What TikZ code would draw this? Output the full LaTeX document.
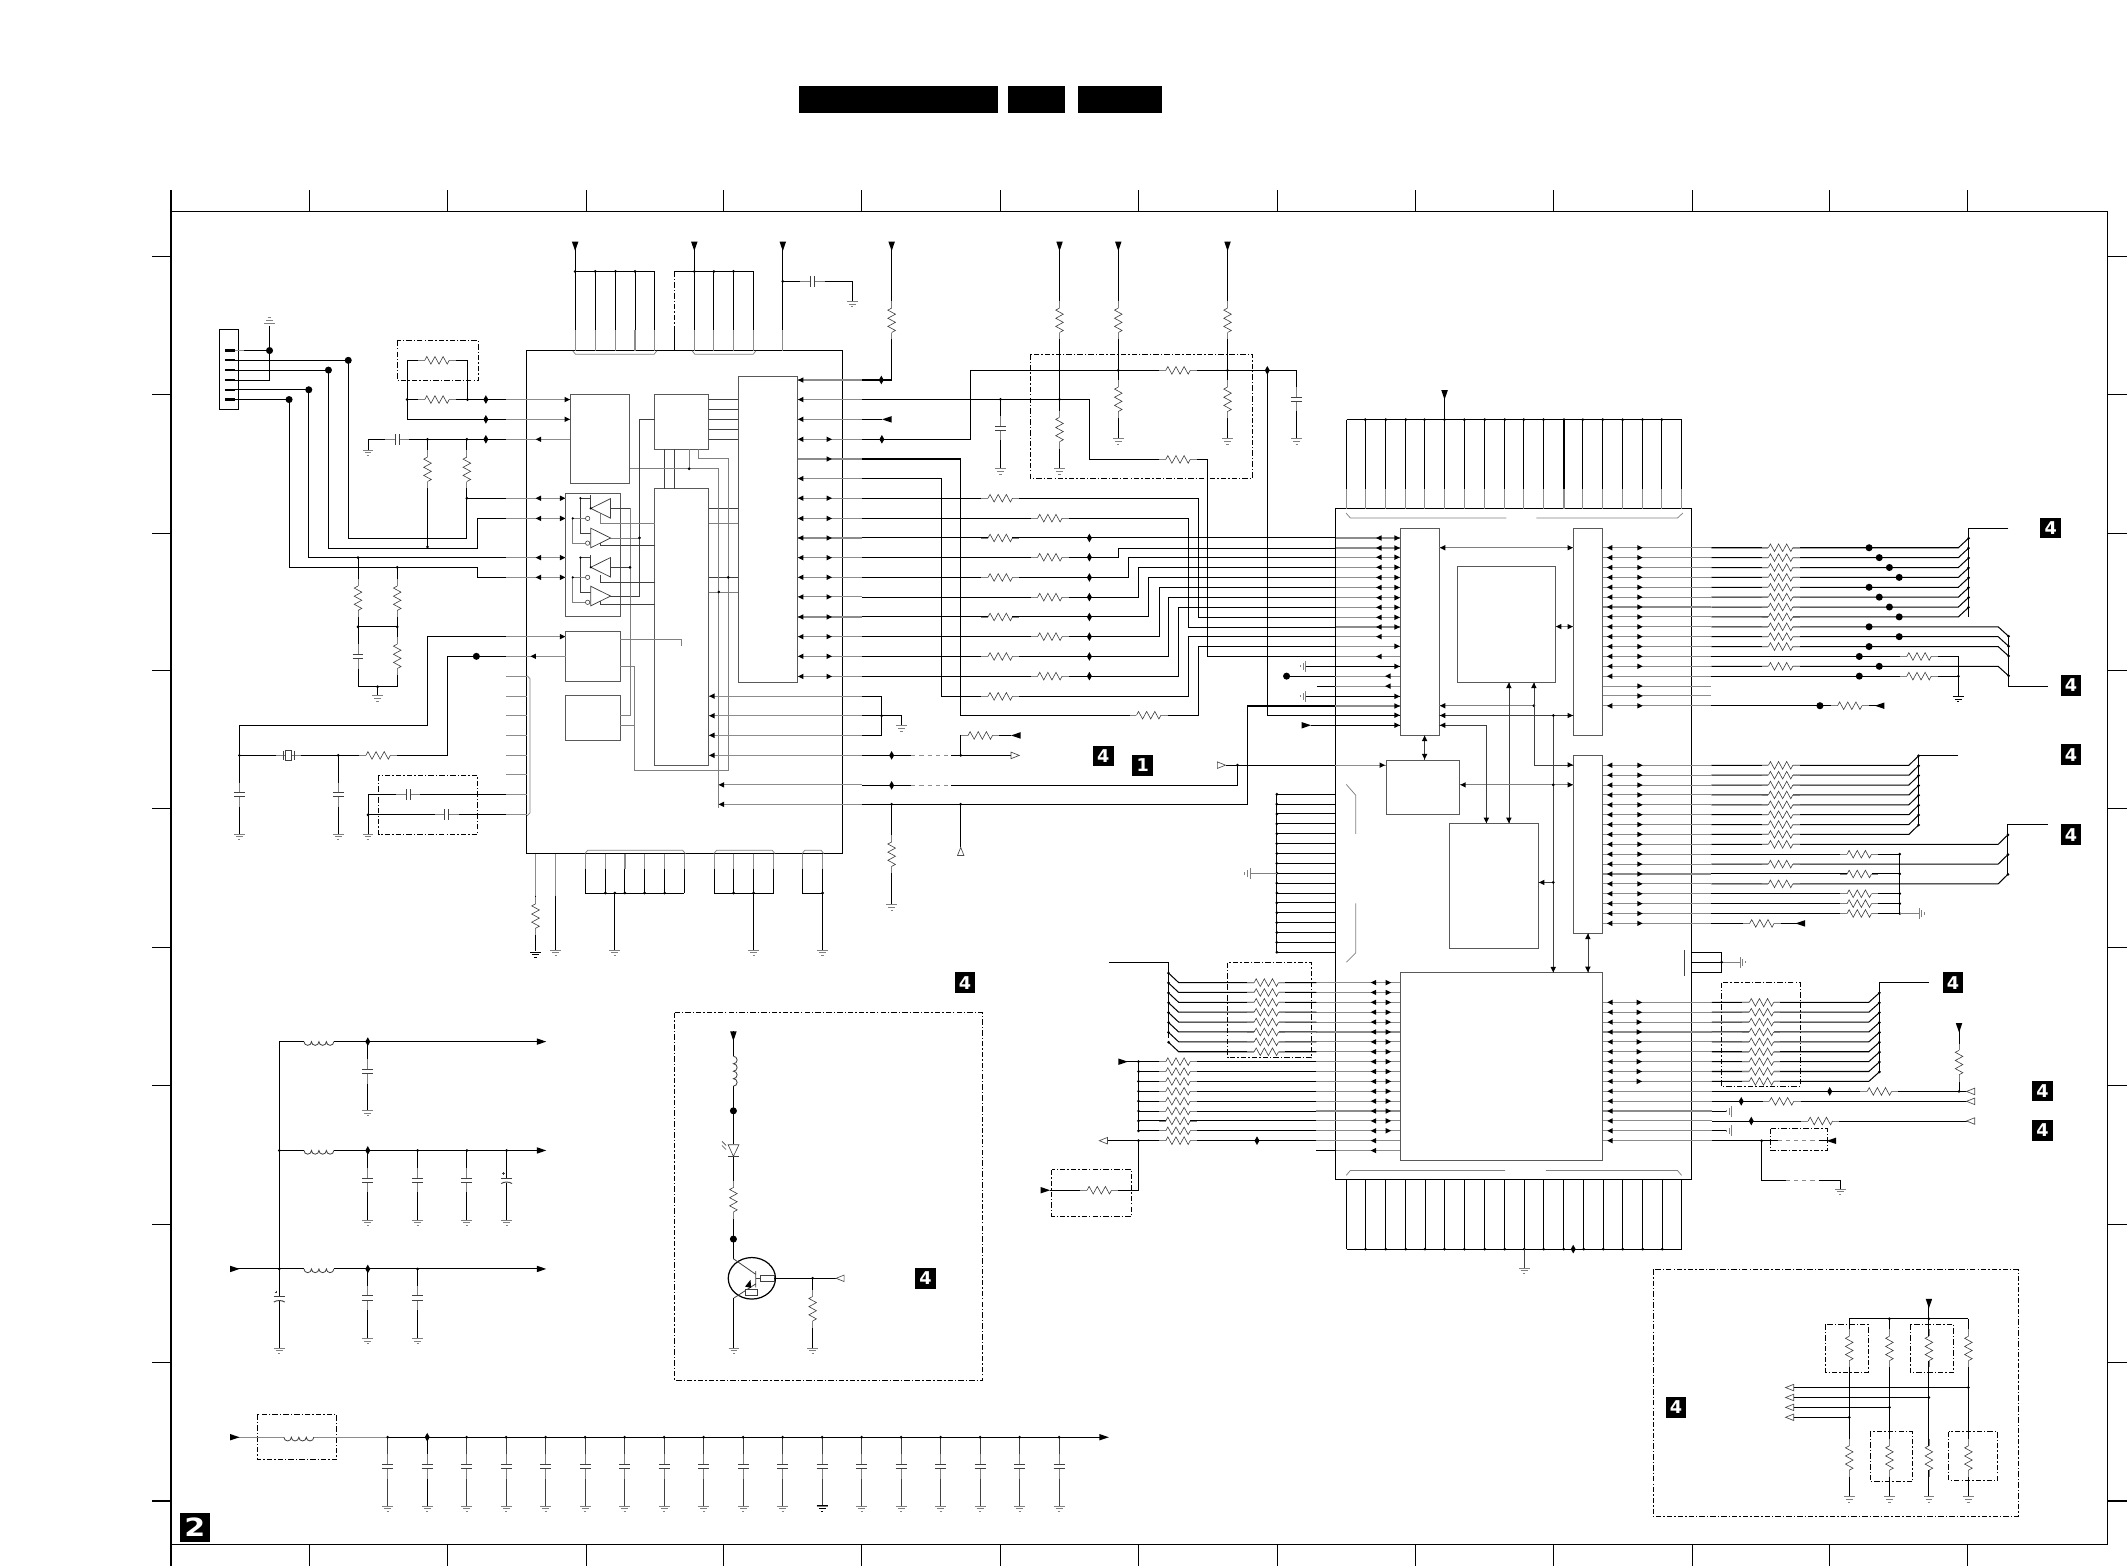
\documentclass[tikz,border=0pt]{standalone}
\usepackage{fontspec}
\setmainfont{Liberation Sans}
\newfontfamily\badgefont{DejaVu Sans}
\tikzset{
 wire/.style={black,line width=0.75pt},
 gw/.style={black!45,line width=0.8pt},
 part/.style={black!75,line width=0.45pt},
 gpart/.style={black!50,line width=0.55pt},
 ic/.style={black,line width=0.8pt},
 blk/.style={black!65,line width=0.6pt},
 dbox/.style={black,line width=0.6pt,dash pattern=on 4pt off 1.5pt on 1pt off 1.5pt},
 badge/.style={fill=black,text=white,font=\badgefont\bfseries\fontsize{13}{13}\selectfont,inner sep=0pt,minimum width=15.2pt,minimum height=15.2pt},
}
\newcommand\xRH[2]{\begin{scope}[shift={(#1,#2)}]\fill[white](-9,-1)rectangle(9,1);\draw[gpart](-14,0)--(-9,0)(9,0)--(14,0);\draw[part](-9,0)--(-7.5,-2.8)--(-4.5,2.8)--(-1.5,-2.8)--(1.5,2.8)--(4.5,-2.8)--(7.5,2.8)--(9,0);\end{scope}}
\newcommand\xRV[2]{\begin{scope}[shift={(#1,#2)}]\fill[white](-1,-9)rectangle(1,9);\draw[gpart](0,-14)--(0,-9)(0,9)--(0,14);\draw[part](0,-9)--(-2.8,-7.5)--(2.8,-4.5)--(-2.8,-1.5)--(2.8,1.5)--(-2.8,4.5)--(2.8,7.5)--(0,9);\end{scope}}
\newcommand\xCV[2]{\begin{scope}[shift={(#1,#2)}]\fill[white](-1,-1.5)rectangle(1,1.5);\draw[gpart](0,-9)--(0,-1.5)(0,1.5)--(0,9);\draw[part,line width=0.7pt](-4,-1.5)--(4,-1.5)(-4,1.5)--(4,1.5);\end{scope}}
\newcommand\xCH[2]{\begin{scope}[shift={(#1,#2)}]\fill[white](-1.5,-1)rectangle(1.5,1);\draw[gpart](-9,0)--(-1.5,0)(1.5,0)--(9,0);\draw[part,line width=0.7pt](-1.5,-4)--(-1.5,4)(1.5,-4)--(1.5,4);\end{scope}}
\newcommand\xCE[2]{\begin{scope}[shift={(#1,#2)}]\fill[white](-1,-1.5)rectangle(1,2);\draw[part,line width=0.7pt](-4,-1.5)--(4,-1.5);\draw[part,line width=0.7pt](-4,2.5)..controls(-2,1)and(2,1)..(4,2.5);\draw[part](-3.5,-5)--(-1.5,-5)(-2.5,-6)--(-2.5,-4);\end{scope}}
\newcommand\xLH[2]{\begin{scope}[shift={(#1,#2)}]\fill[white](-11,-1)rectangle(11,1);\draw[part,line width=0.6pt](-11,0)arc(180:0:2.75)arc(180:0:2.75)arc(180:0:2.75)arc(180:0:2.75);\end{scope}}
\newcommand\xLV[2]{\begin{scope}[shift={(#1,#2)}]\fill[white](-1,-11)rectangle(1,11);\draw[part,line width=0.6pt](0,-11)arc(-90:90:2.75)arc(-90:90:2.75)arc(-90:90:2.75)arc(-90:90:2.75);\end{scope}}
\newcommand\xGD[2]{\begin{scope}[shift={(#1,#2)}]\draw[gpart](-4,0)--(4,0)(-2.5,2)--(2.5,2)(-0.8,4)--(0.8,4);\end{scope}}
\newcommand\xGU[2]{\begin{scope}[shift={(#1,#2)}]\draw[gpart](-4,0)--(4,0)(-2.5,-2)--(2.5,-2)(-0.8,-4)--(0.8,-4);\end{scope}}
\newcommand\xGR[2]{\begin{scope}[shift={(#1,#2)}]\draw[gpart](0,-4)--(0,4)(2,-2.5)--(2,2.5)(4,-0.8)--(4,0.8);\end{scope}}
\newcommand\xGL[2]{\begin{scope}[shift={(#1,#2)}]\draw[gpart](0,-4)--(0,4)(-2,-2.5)--(-2,2.5)(-4,-0.8)--(-4,0.8);\end{scope}}
\newcommand\xD[2]{\fill(#1,#2)circle(1.1);}
\newcommand\xB[2]{\fill(#1,#2)circle(2.6);}
\newcommand\xM[2]{\begin{scope}[shift={(#1,#2)}]\fill(-1.8,0)--(0,-3.2)--(1.8,0)--(0,3.2)--cycle;\end{scope}}
\newcommand\xAL[2]{\begin{scope}[shift={(#1,#2)}]\fill(-2,0)--(2,-2)--(2,2)--cycle;\end{scope}}
\newcommand\xAR[2]{\begin{scope}[shift={(#1,#2)}]\fill(2,0)--(-2,-2)--(-2,2)--cycle;\end{scope}}
\newcommand\xAU[2]{\begin{scope}[shift={(#1,#2)}]\fill(0,-2)--(-2,2)--(2,2)--cycle;\end{scope}}
\newcommand\xAD[2]{\begin{scope}[shift={(#1,#2)}]\fill(0,2)--(-2,-2)--(2,-2)--cycle;\end{scope}}
\newcommand\xSD[2]{\begin{scope}[shift={(#1,#2)}]\fill(-2.4,0)--(2.4,0)--(0,7)--cycle;\end{scope}}
\newcommand\xSL[2]{\begin{scope}[shift={(#1,#2)}]\fill(0,0)--(7,-2.4)--(7,2.4)--cycle;\end{scope}}
\newcommand\xSR[2]{\begin{scope}[shift={(#1,#2)}]\fill(0,0)--(-7,-2.4)--(-7,2.4)--cycle;\end{scope}}
\newcommand\xOL[2]{\begin{scope}[shift={(#1,#2)}]\filldraw[fill=white,draw=black!70,line width=0.5pt](0,0)--(6,-2.4)--(6,2.4)--cycle;\end{scope}}
\newcommand\xOR[2]{\begin{scope}[shift={(#1,#2)}]\filldraw[fill=white,draw=black!70,line width=0.5pt](0,0)--(-6,-2.4)--(-6,2.4)--cycle;\end{scope}}
\newcommand\xOU[2]{\begin{scope}[shift={(#1,#2)}]\filldraw[fill=white,draw=black!70,line width=0.5pt](0,0)--(-2.4,6)--(2.4,6)--cycle;\end{scope}}
\newcommand\xTL[2]{\begin{scope}[shift={(#1,#2)}]\draw[part,line width=0.55pt,fill=white](0,0)--(14.6,-7.2)--(14.6,7.2)--cycle;\end{scope}}
\newcommand\xTR[2]{\begin{scope}[shift={(#1,#2)}]\draw[part,line width=0.55pt,fill=white](14.6,0)--(0,-7.2)--(0,7.2)--cycle;\end{scope}}
\newcommand\xO[2]{\draw[part,fill=white](#1,#2)circle(1.6);}
\begin{document}
\begin{tikzpicture}[x=1pt,y=-1pt]
\useasboundingbox (0,0) rectangle (1568,1153.9);
% header
\fill (589,63) rectangle (735,83);
\fill (743,63) rectangle (785,83);
\fill (794,63) rectangle (856,83);
% frame
\draw[ic] (126,156) rectangle (1553,1138);
\foreach \x in {126,228,330,432,533,635,737,839,941,1043,1145,1247,1348,1450}{\draw[ic](\x,140)--(\x,156)(\x,1138)--(\x,1154);}
\foreach \y in {189,291,393,494,596,698,800,902,1004,1106}{\draw[ic](112,\y)--(126,\y)(1553,\y)--(1567,\y);}
\node[badge,minimum width=22pt,minimum height=22pt] (b2) at (143.5,1125.5) {\fontsize{18.5}{18.5}\selectfont\scalebox{1.2}[1]{2}};
% ---------- connector
\draw[ic,line width=0.7pt] (162,243) rectangle (176,302);
\foreach \y in {258.3,265.5,272.7,280.3,287.2,294.4}{\draw[black,line width=1.6pt](165.8,\y)--(173,\y);}
\draw[gw](173,258.3)--(180,258.3);\draw[wire](180,258.3)--(198.6,258.3);
\draw[wire](198.6,240)--(198.6,280.3)--(173,280.3);
\xGU{198.6}{238}\xB{198.6}{258.3}
\draw[wire](173,265.5)--(256.6,265.5)--(256.6,396.7)--(344,396.7)--(344,360);\xB{256.6}{265.5}
\draw[wire](173,272.7)--(242,272.7)--(242,404.3)--(352,404.3)--(352,382)--(373,382);\xB{242}{272.7}
\draw[wire](173,287.2)--(227.5,287.2)--(227.5,410.9)--(373,410.9);\xB{227.5}{287.2}
\draw[wire](173,294.4)--(213,294.4)--(213,418)--(352,418)--(352,425.4)--(373,425.4);\xB{213}{294.4}
% top-left resistors
\draw[dbox](292.7,251) rectangle (352.7,280.3);
\draw[wire](311,265.5)--(300,265.5)--(300,309)--(373,309);
\draw[wire](333,265.5)--(344.5,265.5)--(344.5,294.4);
\draw[wire](300,294.4)--(373,294.4);
\xRH{322}{265.5}\xRH{322}{294.4}\xD{300}{294.4}\xD{344.5}{294.4}
\xM{358}{294.4}\xM{358}{309}
% cap + two resistors
\draw[wire](271.2,331.6)--(271.2,323.7)--(373,323.7);\xCH{292.7}{323.7}\xGD{271.2}{331.6}
\draw[wire](315,323.7)--(315,404.3);\draw[wire](344,323.7)--(344,367.1)--(373,367.1);
\xRV{315}{345.8}\xRV{344}{345.8}\xD{315}{323.7}\xD{344}{323.7}\xD{315}{403}\xD{344}{367.1}\xM{358}{323.7}
% lower network
\draw[wire](263.8,410.9)--(263.8,506)--(292.7,506)--(292.7,418);\draw[wire](263.8,461.9)--(292.7,461.9);
\xRV{263.8}{440.8}\xRV{292.7}{440.8}\xRV{292.7}{483.6}\xCV{263.8}{483.6}
\xD{263.8}{410.9}\xD{292.7}{418}\xD{263.8}{461.9}\xD{292.7}{461.9}\xD{278.2}{506}
\draw[wire](278.2,506)--(278.2,512.5);\xGD{278.2}{512.5}
% crystal
\draw[wire](373,469.1)--(314.9,469.1)--(314.9,534.6)--(176.4,534.6)--(176.4,614.5);
\draw[wire](373,483.6)--(329.7,483.6)--(329.7,556.6)--(176.4,556.6);
\xB{351}{483.6}\xRH{278.6}{556.6}\xD{176.4}{556.6}\xD{249.3}{556.6}
\xCH{212.7}{556.6}\fill[white](210,553)rectangle(215.5,560);\draw[part](210.5,553)rectangle(215,560);\draw[part](209,553)--(209,560)(216.5,553)--(216.5,560);
\draw[wire](249.3,556.6)--(249.3,614.5);\xCV{176.4}{585.6}\xCV{249.3}{585.6}
\xGD{176.4}{614.5}\xGD{249.3}{614.5}
\draw[dbox](278.9,571.4) rectangle (351.9,614.8);
\draw[wire](373,585.6)--(271.2,585.6)--(271.2,614.5);\draw[wire](373,600.4)--(271.2,600.4);
\xCH{300.8}{585.6}\xCH{329.3}{600.4}\xD{271.2}{600.4}\xGD{271.2}{614.5}
% ---------- left IC
\draw[ic](388,258.3) rectangle (620.9,629);
\foreach \x in {423.8,438.6,453.5,467.9,482.4,511.6,526,540.5,555.3,576.8}{\draw[wire](\x,200)--(\x,243);\draw[gw](\x,243)--(\x,258.3);}
\draw[wire](423.8,178)--(423.8,200)--(482.4,200);\draw[wire](511.6,178)--(511.6,200);\draw[wire](497.2,200)--(555.3,200);
\draw[dbox](497.2,200)--(497.2,243);\draw[wire](497.2,243)--(497.2,258.3);
\draw[wire](576.8,178)--(576.8,243);
\foreach \x in {423.8,511.6,576.8,657}{\xSD{\x}{178}}
\foreach \x in {423.8,438.6,453.5,467.9,511.6,526,540.5}{\xD{\x}{200}}
\draw[gpart](422,258.5)--(424,261)--(482,261)--(484,258.5)(510,258.5)--(512,261)--(555,261)--(557,258.5);
\draw[wire](576.8,207.3)--(628,207.3)--(628,222);\xCH{598.7}{207.3}\xD{576.8}{207.3}\xGD{628}{222}
\draw[wire](657,178)--(657,280)--(635,280);\xRV{657}{236}\xM{649.4}{280}
% IC bottom pins
\foreach \x in {431.3,446,460.5,475,489.8,504.2,526.4,540.5,555.3,570.1,591.3,606.1}{\draw[gw](\x,629)--(\x,640);\draw[wire](\x,640)--(\x,658);}
\draw[wire](431.3,658)--(504.2,658);\draw[wire](526.4,658)--(570.1,658);\draw[wire](591.3,658)--(606.1,658);
\foreach \x in {446,453,460.5,475,489.8,540.5,555.3,606.1}{\xD{\x}{658}}
\draw[wire](453,658)--(453,700);\draw[wire](555.3,658)--(555.3,700);\draw[wire](606.1,658)--(606.1,700);
\xGD{453}{700}\xGD{555.3}{700}\xGD{606.1}{700}
\draw[gw](394.6,629)--(394.6,660);\draw[wire](394.6,660)--(394.6,701);\xRV{394.6}{675}\draw[black,line width=0.6pt](390.6,701.5)--(398.6,701.5)(392.1,703.5)--(397.1,703.5)(393.8,705.5)--(395.4,705.5);
\draw[gw](409.4,629)--(409.4,660);\draw[wire](409.4,660)--(409.4,700);\xGD{409.4}{700}
\draw[gpart](431,629)--(433,626.5)--(503,626.5)--(505,629)(526,629)--(528,626.5)--(569,626.5)--(571,629)(591,629)--(593,626.5)--(605,626.5)--(607,629);
% IC left pins
\foreach \y in {498.4,512.9,527.4,541.8,556.6,571}{\draw[gw](373,\y)--(388,\y);}
\draw[gw](373,585.6)--(388,585.6);\draw[gw](373,600.4)--(388,600.4);
\draw[gpart](388.5,498)--(390.5,500)--(390.5,599)--(388.5,601);
% blocks
\draw[blk](420.3,290.8) rectangle (464,356.3);
\draw[blk](482.4,290.8) rectangle (522.2,331);
\draw[blk](544,277) rectangle (587.7,503);
\draw[blk](482.4,360) rectangle (522.2,563.8);
\draw[blk](416.8,363.5) rectangle (457,454.3);
\draw[blk](416.8,465) rectangle (457,502);
\draw[blk](416.8,512.5) rectangle (457,545.8);
% into block A
\draw[gw](373,294.4)--(420.3,294.4);\draw[gw](373,309)--(420.3,309);\draw[gw](373,323.7)--(420.3,323.7);
\xAR{418}{294.4}\xAR{418}{309}\xAL{396.7}{323.7}
% into E
\foreach \y in {367.1,382,410.9,425.4}{\draw[gw](373,\y)--(416.8,\y);\xAL{396.7}{\y}\xAR{414.6}{\y}}
\draw[gw](373,469.1)--(416.8,469.1);\draw[gw](373,483.6)--(416.8,483.6);\xAR{414.6}{469.1}\xAL{392.9}{483.6}
% internal
\foreach \y in {294.4,301.7,309.2,316.5,323.7,374.6,425.4}{\draw[part,line width=0.55pt](522.2,\y)--(544,\y);}
\foreach \y in {385.5,436.2}{\draw[gpart](522.2,\y)--(544,\y);}
\draw[part](489.7,331)--(489.7,360)(497.2,331)--(497.2,360);\draw[gpart](507.7,331)--(507.7,345.4);
\draw[gpart](464,345.4)--(529.6,345.4)--(529.6,595.4);\xD{507.7}{345.4}
\draw[gpart](514.8,331)--(514.8,337.5)--(536.6,337.5)--(536.6,567.5)--(467.6,567.5)--(467.6,491.2)--(457,491.2);
\draw[gpart](457,534.6)--(467.6,534.6);
\draw[part,line width=0.55pt](482.4,309)--(471.2,309)--(471.2,439.2)--(449.4,439.2);
\draw[part](449.8,374.6)--(464.2,374.6);\draw[gpart](464.2,374.6)--(464.2,527.3)--(457,527.3);
\draw[gpart](457,471)--(501.7,471)--(501.7,476.3);
\draw[gpart](449.4,396.4)--(471.2,396.4);\xD{471.2}{396.4}
\draw[part](449.8,418)--(464.2,418);\xD{464.2}{418}
\draw[gpart](442.5,378)--(442.5,385.5)--(482.4,385.5);
\draw[part](442.5,398)--(442.5,401.6)--(482.4,401.6);
\draw[part](442.5,424)--(442.5,429.4)--(482.4,429.4);
\draw[part](442.5,441)--(442.5,445.4)--(482.4,445.4);
\draw[part](427.7,367.1)--(427.7,392.8)--(435.3,392.8);\draw[part](427.7,367.1)--(435.3,367.1);\draw[part](435.3,365)--(435.3,374.6);
\draw[gpart](422,382)--(422,400.2)--(431.4,400.2);\draw[gpart](422,382)--(431.4,382);
\draw[part](427.7,410.9)--(427.7,436.2)--(435.3,436.2);\draw[part](427.7,410.9)--(435.3,410.9);\draw[part](435.3,408.9)--(435.3,418);
\draw[gpart](422,425.4)--(422,443.8)--(431.4,443.8);\draw[gpart](422,425.4)--(431.4,425.4);
\xTL{435.3}{374.6}\xTR{435.3}{396.4}\xTL{435.3}{418}\xTR{435.3}{439.2}
\xO{433}{382}\xO{433}{400.2}\xO{433}{425.4}\xO{433}{443.8}
\foreach \a/\b in {427.7/367.1,422/382,427.7/410.9,422/425.4,435.3/374.6,435.3/418}{\fill(\a,\b)circle(0.9);}
\xD{536.6}{425.4}\xD{529.6}{436.2}
% right side of C
\foreach \y in {280,294.4,309,323.7,338.2,352.6,367.1,382,396.4,410.9,425.4,439.8,454.6,469.1,483.6,498.4}{\draw[gw](587.7,\y)--(635,\y);}
\foreach \y in {280,294.4,309,323.7,352.6,367.1,382,396.4,410.9,425.4,439.8,454.6,469.1,483.6,498.4}{\xAL{590}{\y}}
\foreach \y in {323.7,338.2,367.1,382,396.4,410.9,425.4,439.8,454.6,469.1,483.6,498.4}{\xAR{611}{\y}}
% D inputs
\foreach \y in {512.9,527.4,541.8,556.6}{\draw[gw](522.2,\y)--(635,\y);\xAL{524.5}{\y}}
\foreach \y in {578.3,592.7}{\draw[gw](529.6,\y)--(635,\y);\xAL{531.5}{\y}}
\draw[wire](635,512.9)--(649.6,512.9)--(649.6,541.8)--(635,541.8);\draw[wire](635,527.4)--(664.2,527.4)--(664.2,534.7);\xD{649.6}{527.4}\xGD{664.2}{534.7}
% outputs
\draw[wire](635,294.3)--(803,294.3)--(803,338.5)--(890,338.5)--(890,483.7)--(984,483.7);
\draw[wire](635,309)--(650,309);\xSL{650}{309}
\draw[wire](635,323.7)--(715.2,323.7)--(715.2,272.9)--(955.5,272.9)--(955.5,323);\xM{649.8}{323.7}
\draw[wire](933.8,272.9)--(933.8,527)--(1032,527);
\draw[wire](635,338.2)--(707.9,338.2)--(707.9,527)--(883,527)--(883,476.2)--(984,476.2);
\draw[wire](635,352.6)--(693.8,352.6)--(693.8,513.1)--(876,513.1)--(876,469.1)--(984,469.1);
\draw[wire](635,367.1)--(883,367.1)--(883,454.9)--(984,454.9);
\draw[wire](635,381.8)--(876,381.8)--(876,462)--(984,462);
\draw[wire](635,396.4)--(984,396.4);
\draw[wire](635,410.6)--(824.4,410.6)--(824.4,403.8)--(984,403.8);
\draw[wire](635,425.5)--(831.7,425.5)--(831.7,410.6)--(984,410.6);
\draw[wire](635,440)--(839,440)--(839,418)--(984,418);
\draw[wire](635,454.6)--(846.4,454.6)--(846.4,425.5)--(984,425.5);
\draw[wire](635,469.1)--(854,469.1)--(854,432.9)--(984,432.9);
\draw[wire](635,483.7)--(861,483.7)--(861,440.4)--(984,440.4);
\draw[wire](635,498.2)--(868.4,498.2)--(868.4,447.5)--(984,447.5);
\foreach \y in {367.1,396.4,425.5,454.6,483.7,513.1}{\xRH{737}{\y}}
\foreach \y in {381.8,410.6,440,469.1,498.2}{\xRH{773.6}{\y}}
\xRH{846.4}{527}
\foreach \y in {396.4,410.6,425.5,440,454.6,469.1,483.7,498.2}{\xM{802.7}{\y}}
% resistors top middle
\draw[dbox](759.2,260.9) rectangle (922.8,352.6);
\draw[wire](780.7,178)--(780.7,345.3);\draw[wire](824,178)--(824,323.3);\draw[wire](904.5,178)--(904.5,323.3);
\foreach \x in {780.7,824,904.5}{\xSD{\x}{178}\xRV{\x}{236}}
\xRV{780.7}{316.5}\xRV{824}{294.2}\xRV{904.5}{294.2}
\xRH{868}{272.9}\xRH{868}{338.5}
\xD{780.7}{294.3}\xD{824}{272.9}\xD{904.5}{272.9}\xM{933.8}{272.9}\xD{737.2}{294.3}
\draw[wire](737.2,294.3)--(737.2,345.3);\xCV{737.2}{315.5}\xCV{955.5}{294.2}
\xGD{737.2}{345.3}\xGD{780.7}{345.3}\xGD{824}{323.3}\xGD{904.5}{323.3}\xGD{955.5}{323.3}
% misc nets
\draw[wire](635,556.6)--(671.5,556.6);\draw[gw,dashed](671.5,556.6)--(701,556.6);\draw[wire](701,556.6)--(745,556.6);\xOR{751}{556.6}\xM{657}{556.6}
\draw[wire](707.9,556.6)--(707.9,541.9)--(745,541.9);\xRH{722.3}{541.9}\xD{707.9}{556.6}\xSL{745}{541.9}
\draw[wire](635,578.7)--(671.5,578.7);\draw[gw,dashed](671.5,578.7)--(701,578.7);\draw[wire](701,578.7)--(911.8,578.7)--(911.8,563.8)--(984,563.8);\xM{657}{578.7}
\draw[wire](911.8,563.8)--(903,563.8);\xOR{903}{563.8}\xD{911.8}{563.8}
\draw[wire](635,592.6)--(919.4,592.6)--(919.4,520.2)--(984,520.2);
\draw[wire](657,592.6)--(657,666.7);\xRV{657}{629.4}\xD{657}{592.6}\xGD{657}{666.7}
\draw[wire](707.9,592.6)--(707.9,624.4);\xD{707.9}{592.6}\xOU{707.9}{624.4}
% badges centre
\node[badge] (b41) at (813,557) {4};
\node[badge] (b11) at (842,564) {1};
\node[badge] (b42) at (711,724) {4};
\node[badge] (b43) at (682,942) {4};
\node[badge] (b44) at (1511,389) {4};
\node[badge] (b45) at (1526,505) {4};
\node[badge] (b46) at (1526,556) {4};
\node[badge] (b47) at (1526,615) {4};
\node[badge] (b48) at (1439,724) {4};
\node[badge] (b49) at (1505,804) {4};
\node[badge] (b50) at (1505,833) {4};
\node[badge] (b51) at (1235,1037) {4};
% ---------- right IC
\draw[ic](984.3,374.7) rectangle (1246.3,869.4);
\foreach \x in {992.2,1006,1021,1035.8,1049.7,1064.4,1079,1094,1108.8,1122.7,1137.3,1152.4,1166.3,1181,1195.6,1210.3,1224.5,1239.2}{\draw[wire](\x,309.2)--(\x,360.6);\draw[gw](\x,360.6)--(\x,374.7);}
\draw[wire](992.2,309.2)--(1239.2,309.2);\draw[wire](1064.4,287.5)--(1064.4,309.2);\xSD{1064.4}{287.5}
\foreach \x in {1006,1021,1035.8,1049.7,1064.4,1079,1094,1108.8,1122.7,1137.3,1152.4,1166.3,1181,1195.6,1210.3,1224.5}{\xD{\x}{309.2}}
\draw[gpart](991.8,378)--(995,381.7)--(1110,381.7)(1132,381.7)--(1236,381.7)--(1240,378);
% blocks
\draw[blk](1031.7,389.2) rectangle (1060.6,541.6);
\draw[blk](1159.5,389.2) rectangle (1181,541.6);
\draw[blk](1074.2,417.4) rectangle (1146.3,502.9);
\draw[blk](1021.2,560) rectangle (1075.7,600.3);
\draw[blk](1068.2,606.6) rectangle (1133.6,698.7);
\draw[blk](1159.5,556.7) rectangle (1181,687.5);
\draw[blk](1031.8,716.8) rectangle (1180.9,854.9);
% H left
\foreach \y in {396.4,403.8,410.6,418,425.5,432.9,440.4,447.5,454.9,462,469.1,476.2,483.7}{\draw[gw](984.3,\y)--(1031.7,\y);}
\foreach \y in {396.4,403.8,410.6,418,425.5,432.9,440.4,447.5,454.9,462}{\xAL{1016}{\y}\xAR{1029.5}{\y}}
\xAL{1016}{469.1}\xAR{1029.5}{476.2}\xAL{1016}{483.7}
\draw[wire](962,491)--(1031.7,491);\xGL{962}{491}\xAR{1029.5}{491}
\draw[wire](948,498.2)--(984,498.2);\draw[gw](984,498.2)--(1031.7,498.2);\xB{948}{498.2}\xAL{1022.6}{498.2}
\draw[wire](970.4,505.6)--(984,505.6);\draw[gw](984,505.6)--(1031.7,505.6);\xAL{1022.6}{505.6}
\draw[wire](962,513.1)--(1031.7,513.1);\xGL{962}{513.1}\xAR{1029.5}{513.1}
\draw[gw](984,520.2)--(1031.7,520.2);\xAR{1029.5}{520.2}\xAR{1029.5}{527}
\draw[wire](966,534.4)--(1031.7,534.4);\xSR{966}{534.4}\xAR{1029.5}{534.4}
\draw[gw](984,563.8)--(1021.2,563.8);\xAR{1018.5}{563.8}
% internal links
\draw[gpart](1060.6,403.6)--(1159.5,403.6);\xAL{1063}{403.6}\xAR{1157}{403.6}
\draw[gpart](1146.3,461.7)--(1159.5,461.7);\xAL{1148.5}{461.7}\xAR{1157}{461.7}
\draw[gpart](1060.6,520)--(1130.2,520);\xAL{1063}{520}\xD{1130.2}{520}
\draw[part](1130.2,502.9)--(1130.2,563.6)--(1159.5,563.6);\xAU{1130.2}{505}\xAR{1157}{563.6}
\draw[part](1111.8,502.9)--(1111.8,606.6);\xAU{1111.8}{505}\xAD{1111.8}{604.5}
\draw[part](1060.6,527.2)--(1159.5,527.2);\xAL{1063}{527.2}\xAR{1157}{527.2}
\draw[part](1144.5,527.2)--(1144.5,716.8);\xD{1144.5}{527.2}\xAD{1144.5}{714.5}
\draw[gpart](1075.7,578.3)--(1159.5,578.3);\xAL{1078}{578.3}\xAR{1157}{578.3}\xD{1144.5}{578.3}
\draw[part](1133.6,650.2)--(1144.5,650.2);\xAL{1136}{650.2}\xD{1144.5}{650.2}
\draw[part](1060.6,534.4)--(1095.2,534.4)--(1095.2,606.6);\xAL{1063}{534.4}\xAD{1095.2}{604.5}
\draw[part](1049.7,541.6)--(1049.7,560);\xAU{1049.7}{544}\xAD{1049.7}{557.5}
\draw[part](1170,687.5)--(1170,716.8);\xAU{1170}{690}\xAD{1170}{714.3}
% block I right
\foreach \i in {0,...,16}{\pgfmathsetmacro\y{403.6+7.28*\i}\draw[gw](1181,\y)--(1261,\y);\ifnum\i<14 \xAL{1186}{\y}\fi\ifnum\i=16 \xAL{1186}{\y}\fi\ifnum\i=13 \else\xAR{1208.4}{\y}\fi}
\foreach \i/\dx in {0/1377.2,1/1384.7,2/1392.2,3/1399.4,4/1377.2,5/1384.7,6/1392.2,7/1399.4}{\pgfmathsetmacro\y{403.6+7.28*\i}\draw[wire](1261,\y)--(1443,\y)--(1450.5,\y-7);\xRH{1312}{\y}\xB{\dx}{\y}\xD{1450.5}{\y-7}}
\draw[wire](1479.8,389.5)--(1450.5,389.5)--(1450.5,454.9);
\foreach \i/\dx in {8/1377.2,9/1399.4,10/1377.2,12/1384.7}{\pgfmathsetmacro\y{403.6+7.28*\i}\draw[wire](1261,\y)--(1472.3,\y)--(1480,\y+7);\xD{1480}{\y+7}\xB{\dx}{\y}\xRH{1312}{\y}}
\draw[wire](1480,468.9)--(1480,505.6)--(1508.8,505.6);
\draw[wire](1261,483.7)--(1443,483.7)--(1443,513);\draw[wire](1261,498.2)--(1443,498.2);
\xB{1370}{483.7}\xB{1370}{498.2}\xRH{1414}{483.7}\xRH{1414}{498.2}\xD{1443}{498.2}
\draw[black,line width=0.6pt](1439,513)--(1447,513)(1440.5,515)--(1445.5,515)(1442.2,517)--(1443.8,517);
\draw[wire](1261,520)--(1388,520);\xSL{1381.5}{520}\xB{1341}{520}\xRH{1363}{520}
% block M right
\foreach \i in {0,...,16}{\pgfmathsetmacro\y{563.9+7.28*\i}\draw[gw](1181,\y)--(1261,\y);\xAL{1186}{\y}\xAR{1208.4}{\y}}
\foreach \i in {0,...,7}{\pgfmathsetmacro\y{563.9+7.28*\i}\draw[wire](1261,\y)--(1406.5,\y)--(1413.7,\y-7);\xRH{1312}{\y}\xD{1413.7}{\y-7}}
\draw[wire](1443,556.4)--(1413.7,556.4)--(1413.7,607.9);
\foreach \i in {8,10,12}{\pgfmathsetmacro\y{563.9+7.28*\i}\draw[wire](1261,\y)--(1472.3,\y)--(1479.5,\y-7);\xRH{1312}{\y}\xD{1479.5}{\y-7}}
\draw[wire](1508.8,607.2)--(1479.5,607.2)--(1479.5,644.3);
\foreach \i in {9,11,13,14,15}{\pgfmathsetmacro\y{563.9+7.28*\i}\draw[wire](1261,\y)--(1399.8,\y);\xRH{1370}{\y}\xD{1399.8}{\y}}
\draw[wire](1399.8,629.4)--(1399.8,673.1);\draw[gpart](1399.8,673.1)--(1414,673.1);\xGR{1414}{673.1}
\draw[wire](1261,680.4)--(1325,680.4);\xRH{1298.2}{680.4}\xSL{1323}{680.4}
% IC left lower pins
\draw[wire](940.8,585.2)--(940.8,701.7);
\foreach \i in {0,...,16}{\pgfmathsetmacro\y{585.2+7.28*\i}\draw[wire](940.8,\y)--(984.3,\y);\xD{940.8}{\y}}
\draw[gpart](921,643.6)--(940.8,643.6);\xGL{921}{643.6}
\draw[gpart](992,578)--(999,586)--(999,614.4)(999,665.6)--(999,702)--(992,709);
% IC right small
\draw[part](1240.7,700)--(1240.7,719);
\draw[wire](1246.3,702)--(1268.5,702)--(1268.5,716.4)--(1246.3,716.4);\draw[wire](1246.3,709)--(1268.5,709);\draw[gpart](1268.5,709)--(1282,709);\xGR{1282}{709}\xD{1268.5}{709}
% block N left
\foreach \i in {0,...,17}{\pgfmathsetmacro\y{724+7.28*\i}\draw[gw](970,\y)--(1031.8,\y);\ifnum\i<16 \xAR{1023}{\y}\fi\xAL{1012}{\y}}
\draw[wire](817,709.2)--(861,709.2)--(861,765);
\draw[dbox](904.5,709.2) rectangle (966.2,779.4);
\foreach \i in {0,...,7}{\pgfmathsetmacro\y{724+7.28*\i}\draw[wire](861,\y-7)--(868.5,\y)--(970,\y);\xRH{933.1}{\y}\xD{861}{\y-7}}
\foreach \i in {8,...,15}{\pgfmathsetmacro\y{724+7.28*\i}\draw[wire](838.9,\y)--(970,\y);\xRH{868}{\y}\xD{838.9}{\y}}
\draw[wire](838.9,782.3)--(838.9,833.3);\xSR{831}{782.3}\draw[wire](826,782.3)--(838.9,782.3);
\draw[wire](816,840.5)--(970,840.5);\xRH{868}{840.5}\xM{926.2}{840.5}\xOL{810}{840.5}\xD{838.9}{840.5}
\draw[wire](838.9,840.5)--(838.9,877)--(773.7,877);\xRH{810}{877}\xSR{773.7}{877}
\draw[dbox](775,862) rectangle (834,896);
\draw[wire](970,847.9)--(984.3,847.9);
% block N right
\foreach \i in {2,...,16}{\pgfmathsetmacro\y{724+7.28*\i}\draw[gw](1180.9,\y)--(1261.4,\y);\xAL{1186.3}{\y}\ifnum\i<11 \xAR{1208}{\y}\fi}
\draw[dbox](1268.3,724) rectangle (1326.5,800.4);
\foreach \i in {2,...,10}{\pgfmathsetmacro\y{724+7.28*\i}\draw[wire](1261.4,\y)--(1377,\y)--(1384.8,\y-7);\xRH{1297.9}{\y}\xD{1384.8}{\y-7}}
\draw[wire](1421.3,724)--(1384.8,724)--(1384.8,789);
\draw[wire](1261.4,804.2)--(1449,804.2);\xM{1348.2}{804.2}\xRH{1384.8}{804.2}\xD{1443.5}{804.2}\xOL{1449}{804.2}
\draw[wire](1443.5,754)--(1443.5,804.2);\xSD{1443.5}{753.8}\xRV{1443.5}{782.9}
\draw[wire](1261.4,811.5)--(1449,811.5);\xM{1283}{811.5}\xRH{1312.7}{811.5}\xOL{1449}{811.5}
\draw[wire](1261.4,818.7)--(1272,818.7);\xGL{1276}{818.7}
\draw[wire](1261.4,826)--(1449,826);\xM{1290.4}{826}\xRH{1341.3}{826}\xOL{1449}{826}
\draw[wire](1261.4,833.3)--(1272,833.3);\xGL{1276}{833.3}
\draw[wire](1261.4,840.6)--(1310,840.6);\draw[gw,dashed](1310,840.6)--(1340,840.6);\draw[wire](1340,840.6)--(1347,840.6);\xSL{1346}{840.6}\xD{1298}{840.6}
\draw[dbox](1304.8,831.6) rectangle (1346.3,848);
\draw[wire](1298,840.6)--(1298,869.7)--(1316,869.7);\draw[gw,dashed](1316,869.7)--(1340,869.7);\draw[wire](1340,869.7)--(1356,869.7)--(1356,876);\xGD{1356}{876}
% bottom pins
\foreach \x in {992.4,1006.2,1021,1035.8,1050,1064.4,1079,1094,1108.8,1123.1,1137.4,1152.3,1167,1181.4,1195.7,1210.5,1224.8,1239.2}{\draw[wire](\x,869.4)--(\x,920.4);}
\draw[wire](992.4,920.4)--(1239.2,920.4);
\foreach \x in {1006.2,1021,1035.8,1050,1064.4,1079,1094,1108.8,1123.1,1137.4,1152.3,1167,1181.4,1195.7,1210.5,1224.8}{\xD{\x}{920.4}}
\xM{1159.2}{920.4}
\draw[part](1123.1,920.4)--(1123.1,934.4);\xGD{1123.1}{934.4}
\draw[gpart](992,866)--(995,862.4)--(1109,862.4)(1139,862.4)--(1236,862.4)--(1239,866);
% bottom right box
\draw[dbox](1218,935.6) rectangle (1487,1117.4);
\draw[wire](1421.3,957)--(1421.3,971.7);\xSD{1421.3}{957}
\draw[wire](1362.6,971.7)--(1450.4,971.7);
\foreach \x in {1362.6,1392.2,1421.3,1450.4}{\draw[wire](\x,971.7)--(\x,1102.8);\xRV{\x}{993.6}\xRV{\x}{1074.3}\xGD{\x}{1102.8}}
\xD{1392.2}{971.7}\xD{1421.3}{971.7}
\draw[wire](1320,1022.4)--(1450.4,1022.4);\xOL{1315.7}{1022.4}\xD{1450.4}{1022.4}
\draw[wire](1320,1029.7)--(1421.3,1029.7);\xOL{1315.7}{1029.7}\xD{1421.3}{1029.7}
\draw[wire](1320,1037)--(1392.2,1037);\xOL{1315.7}{1037}\xD{1392.2}{1037}
\draw[wire](1320,1044.3)--(1362.6,1044.3);\xOL{1315.7}{1044.3}\xD{1362.6}{1044.3}
\draw[dbox](1345.3,975.8) rectangle (1376.4,1011.3);
\draw[dbox](1407.5,975.8) rectangle (1439.5,1011.3);
\draw[dbox](1377.9,1054.8) rectangle (1409.4,1091.8);
\draw[dbox](1436,1054.8) rectangle (1472,1091);
% ---------- power filters
\draw[wire](205.8,767.5)--(205.8,993.2);
\foreach \y in {767.5,847.7,935}{\draw[wire](205.8,\y)--(396,\y);\xSR{402.5}{\y}\xLH{235}{\y}\xM{271}{\y}}
\draw[wire](172.8,935)--(205.8,935);\xSR{176.5}{935}
\draw[wire](271,767.5)--(271,818.2);\xCV{271}{789.6}\xGD{271}{818.2}
\foreach \x in {271,307.7,344,373.3}{\draw[wire](\x,847.7)--(\x,899);\xGD{\x}{899}}
\xCV{271}{869.6}\xCV{307.7}{869.6}\xCV{344}{869.6}\xCE{373.3}{869.6}
\xD{307.7}{847.7}\xD{344}{847.7}\xD{373.3}{847.7}\xD{205.8}{847.7}\xD{205.8}{935}
\foreach \x in {271,307.7}{\draw[wire](\x,935)--(\x,986);\xCV{\x}{956.4}\xGD{\x}{986}}\xD{307.7}{935}
\xCE{205.8}{956.9}\xGD{205.8}{993.2}
% transistor box
\draw[dbox](497.2,746.2) rectangle (724,1017.2);
\draw[wire](540.4,760)--(540.4,927.5);\xSD{540.4}{760}\xLV{540.4}{789.3}\xB{540.4}{818.5}\xB{540.4}{913}\xRV{540.4}{884}
\fill[white](536,843)rectangle(545,852);\draw[part](536.5,843.5)--(544.5,843.5)--(540.4,852)--cycle;\draw[part](536.5,852)--(544.5,852);\draw[part](535,844)--(532,841)(535,847)--(532,844);
\draw[wire,line width=0.9pt](554,941.9) ellipse (17.4 and 15.3);
\draw[part,line width=0.6pt](540.4,927.5)--(556.9,939)(556.9,946)--(540.8,956.4)(556.9,936.6)--(556.9,948.5);
\draw[part](556.9,941.9)--(560,941.9);\draw[part,fill=white](560,939.9)rectangle(570.4,943.9);\draw[part,fill=white](549,950)rectangle(557.9,954.5);
\fill(549,948)--(553,943)--(553.5,949)--cycle;
\draw[wire](540.8,956.4)--(540.8,993.2);\xGD{540.8}{993.2}
\draw[wire](570.4,941.9)--(617,941.9);\xOL{616}{941.9}\xD{598.8}{941.9}
\draw[wire](598.8,941.9)--(598.8,993.2);\xRV{598.8}{964.3}\xGD{598.8}{993.2}
% bottom supply
\draw[dbox](189.7,1042.2) rectangle (248,1075.4);
\draw[gw](172.8,1059)--(285.7,1059);\xSR{176.5}{1059}\xLH{220.2}{1059}
\draw[wire](285.7,1059)--(811,1059);\xSR{817}{1059}
\foreach \i in {0,...,17}{\pgfmathsetmacro\x{285.7+29.1*\i}\draw[part,line width=0.6pt](\x,1059)--(\x,1109.6);\xCV{\x}{1080.6}\xGD{\x}{1109.6}\xD{\x}{1059}}
\xM{314.8}{1059}\draw[wire](314.8,1059)--(314.8,1109.6);\xCV{314.8}{1080.6}
\draw[black,line width=0.7pt](601.8,1109.6)--(609.8,1109.6)(603.3,1111.6)--(608.3,1111.6)(605,1113.6)--(606.6,1113.6);
\end{tikzpicture}
\end{document}
